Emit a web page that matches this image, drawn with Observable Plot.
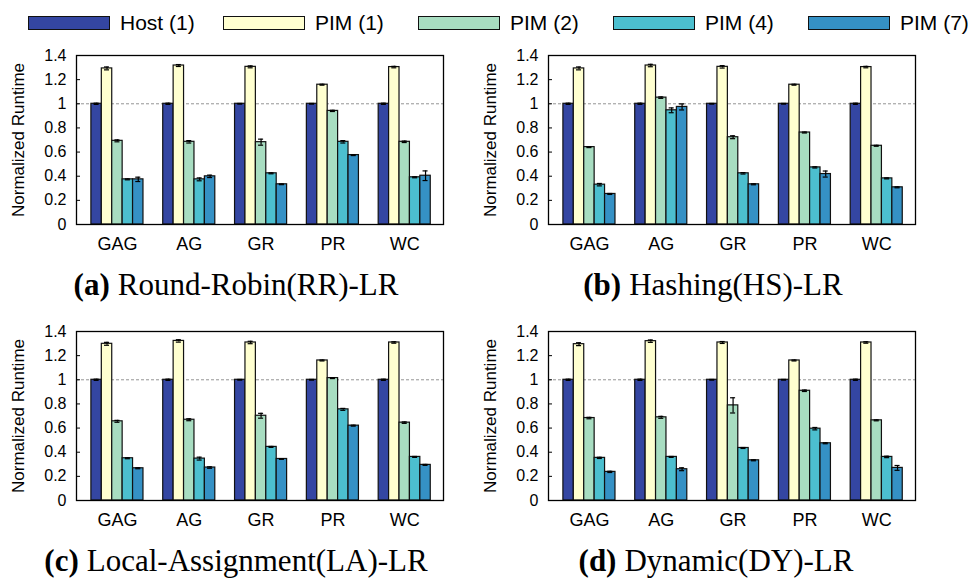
<!DOCTYPE html>
<html>
<head>
<meta charset="utf-8">
<script src="https://cdn.jsdelivr.net/npm/d3@7"></script>
<script src="https://cdn.jsdelivr.net/npm/@observablehq/plot@0.6"></script>
<style>
  html, body { margin: 0; padding: 0; background: #fff; }
  #root { position: relative; width: 968px; height: 578px; overflow: hidden; background: #fff; }
  .legend { position: absolute; left: 28px; top: 12px; width: 1000px; display: flex; font-family: "Liberation Sans", Arial, sans-serif; font-size: 21px; line-height: 21px; color: #000; }
  .legend .item { display: flex; align-items: center; flex: none; width: 195px; }
  .legend .sw { flex: none; width: 80px; height: 12px; border: 1.5px solid #111; margin-right: 10px; }
  .panel { position: absolute; }
  .panel svg { overflow: visible; }
  .cap { position: absolute; transform: translateX(-50%); white-space: nowrap; font-family: "Liberation Serif", "Times New Roman", serif; font-size: 31px; line-height: 31px; color: #000; }
  .cap b { font-weight: bold; margin-right: 8px; }
</style>
</head>
<body>
<div id="root"></div>
<script>
const categories = ["GAG", "AG", "GR", "PR", "WC"];
const series = ["Host (1)", "PIM (1)", "PIM (2)", "PIM (4)", "PIM (7)"];
const colors = ["#3446a2", "#ffffd0", "#a8ddc1", "#4cbfcf", "#3591c5"];
const yTicks = [0, 0.2, 0.4, 0.6, 0.8, 1, 1.2, 1.4];
const yLabel = "Normalized Runtime";

// values per category (rows) x series (cols)
const rrValues = [
  [1.0, 1.293, 0.693, 0.374, 0.374],
  [1.0, 1.317, 0.685, 0.374, 0.399],
  [1.0, 1.306, 0.682, 0.424, 0.333],
  [1.0, 1.158, 0.941, 0.685, 0.575],
  [1.0, 1.304, 0.685, 0.391, 0.404]
];
const rrErrors = [
  [0.005, 0.012, 0.008, 0.004, 0.018],
  [0.005, 0.008, 0.010, 0.012, 0.010],
  [0.003, 0.008, 0.025, 0.004, 0.003],
  [0.003, 0.004, 0.005, 0.010, 0.004],
  [0.005, 0.006, 0.006, 0.004, 0.040]
];
const hsValues = [
  [1.0, 1.293, 0.641, 0.330, 0.253],
  [1.0, 1.317, 1.051, 0.946, 0.974],
  [1.0, 1.306, 0.723, 0.424, 0.333],
  [1.0, 1.158, 0.762, 0.473, 0.418],
  [1.0, 1.304, 0.652, 0.382, 0.308]
];
const hsErrors = [
  [0.005, 0.012, 0.004, 0.010, 0.004],
  [0.005, 0.010, 0.006, 0.020, 0.025],
  [0.003, 0.010, 0.012, 0.006, 0.004],
  [0.003, 0.004, 0.004, 0.005, 0.025],
  [0.005, 0.006, 0.004, 0.004, 0.004]
];
const laValues = [
  [1.0, 1.298, 0.656, 0.350, 0.267],
  [1.0, 1.322, 0.669, 0.347, 0.273],
  [1.0, 1.309, 0.702, 0.444, 0.344],
  [1.0, 1.160, 1.014, 0.755, 0.620],
  [1.0, 1.309, 0.645, 0.361, 0.295]
];
const laErrors = [
  [0.005, 0.012, 0.008, 0.004, 0.004],
  [0.005, 0.010, 0.008, 0.012, 0.006],
  [0.003, 0.010, 0.020, 0.004, 0.003],
  [0.003, 0.004, 0.004, 0.008, 0.004],
  [0.005, 0.006, 0.006, 0.004, 0.004]
];
const dyValues = [
  [1.0, 1.295, 0.683, 0.353, 0.237],
  [1.0, 1.320, 0.689, 0.361, 0.259],
  [1.0, 1.309, 0.788, 0.435, 0.333],
  [1.0, 1.160, 0.909, 0.595, 0.474],
  [1.0, 1.309, 0.664, 0.361, 0.270]
];
const dyErrors = [
  [0.005, 0.012, 0.006, 0.005, 0.005],
  [0.005, 0.010, 0.008, 0.004, 0.012],
  [0.003, 0.008, 0.063, 0.004, 0.004],
  [0.003, 0.004, 0.006, 0.010, 0.004],
  [0.005, 0.006, 0.004, 0.006, 0.020]
];
const captionLetters = ["(a)", "(b)", "(c)", "(d)"];
const captionTexts = ["Round-Robin(RR)-LR", "Hashing(HS)-LR", "Local-Assignment(LA)-LR", "Dynamic(DY)-LR"];

const BAR_W = 0.145;   // width of a bar in category units
const CAP_W = 0.035;   // half width of error cap

function rowsFrom(values, errors) {
  const rows = [];
  values.forEach((vals, i) => vals.forEach((v, j) => {
    const x1 = i + (j - 2.5) * BAR_W;
    rows.push({ cat: i, s: series[j], x1, x2: x1 + BAR_W, xc: x1 + BAR_W / 2, v, lo: v - errors[i][j], hi: v + errors[i][j] });
  }));
  return rows;
}

function panel(values, errors, marginLeft, marginRight, width) {
  const rows = rowsFrom(values, errors);
  return Plot.plot({
    width, height: 214,
    marginTop: 15, marginBottom: 30, marginLeft, marginRight,
    style: { fontFamily: "'Liberation Sans', Arial, sans-serif", fontSize: "16px", color: "#000", background: "transparent", overflow: "visible" },
    x: { domain: [-0.57, 4.54], axis: null },
    y: { domain: [0, 1.4], axis: null },
    color: { domain: series, range: colors },
    marks: [
      Plot.ruleY([1], { stroke: "#777", strokeWidth: 0.8, strokeDasharray: "3,2" }),
      Plot.rectY(rows, { x1: "x1", x2: "x2", y1: 0, y2: "v", fill: "s", stroke: "#111", strokeWidth: 1.2 }),
      Plot.ruleX(rows, { x: "xc", y1: "lo", y2: "hi", stroke: "#000", strokeWidth: 1.2 }),
      Plot.ruleY(rows, { y: "lo", x1: d => d.xc - CAP_W, x2: d => d.xc + CAP_W, stroke: "#000", strokeWidth: 1.2 }),
      Plot.ruleY(rows, { y: "hi", x1: d => d.xc - CAP_W, x2: d => d.xc + CAP_W, stroke: "#000", strokeWidth: 1.2 }),
      Plot.frame({ stroke: "#000", strokeWidth: 1.3 }),
      Plot.axisY({ ticks: yTicks, tickFormat: d3.format("~g"), tickSize: -4, tickPadding: 14, fontSize: 16, label: null, stroke: "#000" }),
      Plot.axisX({ ticks: categories.map((_, i) => i), tickFormat: i => categories[i], tickSize: 0, tickPadding: 13, fontSize: 18, label: null }),
      Plot.text([yLabel], { frameAnchor: "left", textAnchor: "middle", lineAnchor: "middle", rotate: -90, dx: -58, fontSize: 17, text: d => d, fill: "#000" })
    ]
  });
}

const root = document.getElementById("root");

// legend
const legend = document.createElement("div");
legend.className = "legend";
series.forEach((s, i) => {
  const item = document.createElement("div");
  item.className = "item";
  const sw = document.createElement("div");
  sw.className = "sw";
  sw.style.background = colors[i];
  const t = document.createElement("span");
  t.textContent = s;
  item.appendChild(sw); item.appendChild(t);
  legend.appendChild(item);
});
root.appendChild(legend);

const panels = [
  { v: rrValues, e: rrErrors, left: 0, top: 40, ml: 76, mr: 41, w: 484 },
  { v: hsValues, e: hsErrors, left: 476, top: 40, ml: 72, mr: 53, w: 492 },
  { v: laValues, e: laErrors, left: 0, top: 316, ml: 76, mr: 41, w: 484 },
  { v: dyValues, e: dyErrors, left: 476, top: 316, ml: 72, mr: 53, w: 492 }
];
panels.forEach(p => {
  const div = document.createElement("div");
  div.className = "panel";
  div.style.left = p.left + "px";
  div.style.top = p.top + "px";
  div.appendChild(panel(p.v, p.e, p.ml, p.mr, p.w));
  root.appendChild(div);
});

const capPos = [[236, 269], [713, 269], [236, 545], [716, 545]];
captionTexts.forEach((txt, i) => {
  const c = document.createElement("div");
  c.className = "cap";
  c.style.left = capPos[i][0] + "px";
  c.style.top = capPos[i][1] + "px";
  const b = document.createElement("b");
  b.textContent = captionLetters[i];
  c.appendChild(b);
  c.appendChild(document.createTextNode(txt));
  root.appendChild(c);
});
</script>
</body>
</html>
